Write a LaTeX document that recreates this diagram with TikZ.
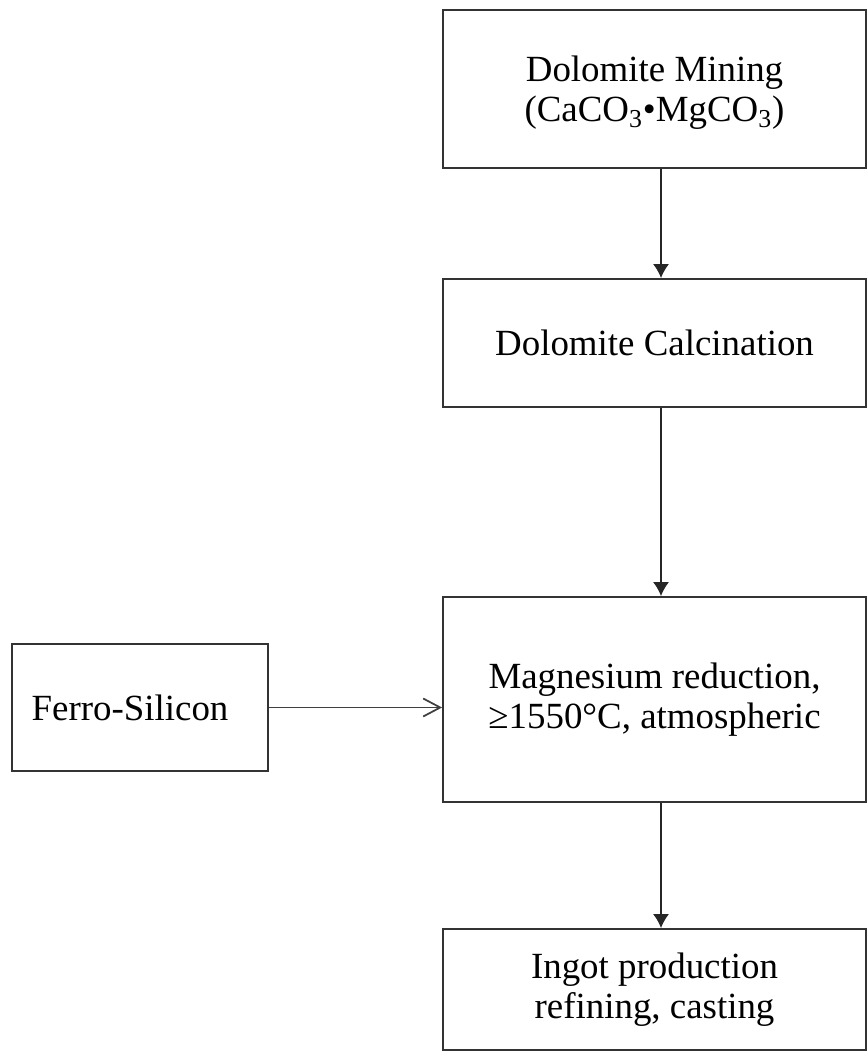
\documentclass[tikz,border=0pt]{standalone}
\usepackage{fontspec}
\setmainfont{Liberation Serif}
\usetikzlibrary{arrows.meta,positioning}

\begin{document}
\begin{tikzpicture}[x=0.02cm,y=-0.02cm,>=Latex,
  stepbox/.style={draw=black!80,line width=1.1pt,fill=white,align=center,inner sep=2pt,font=\fontsize{21}{23}\selectfont},
  flow/.style={-{Latex[length=0.28cm,width=0.32cm]},draw=black!85,line width=0.8pt},
  feed/.style={-{Straight Barb[length=0.34cm,width=0.36cm]},draw=black!75,line width=1pt}]
\useasboundingbox (0,0) rectangle (867,1053);
\node[stepbox,minimum width=8.46cm,minimum height=3.16cm] (mine) at (654.5,89) {\\[-4pt]Dolomite Mining\\(CaCO\textsubscript{3}•MgCO\textsubscript{3})};
\node[stepbox,minimum width=8.46cm,minimum height=2.56cm] (calc) at (654.5,343) {Dolomite Calcination};
\node[stepbox,minimum width=8.46cm,minimum height=4.1cm] (redu) at (654.5,699.5) {Magnesium reduction,\\≥1550°C, atmospheric};
\node[stepbox,minimum width=8.46cm,minimum height=2.42cm] (ingot) at (654.5,989.5) {Ingot production\\refining, casting};
\node[stepbox,minimum width=5.12cm,minimum height=2.54cm] (fesi) at (140,707.5) {Ferro-Silicon\hspace{0.4cm}};
\draw[flow] ([xshift=0.13cm]mine.south) -- ([xshift=0.13cm]calc.north);
\draw[flow] ([xshift=0.13cm]calc.south) -- ([xshift=0.13cm]redu.north);
\draw[flow] ([xshift=0.13cm]redu.south) -- ([xshift=0.13cm]ingot.north);
\draw[feed] (fesi.east) -- (fesi.east -| redu.west);
\end{tikzpicture}
\end{document}
